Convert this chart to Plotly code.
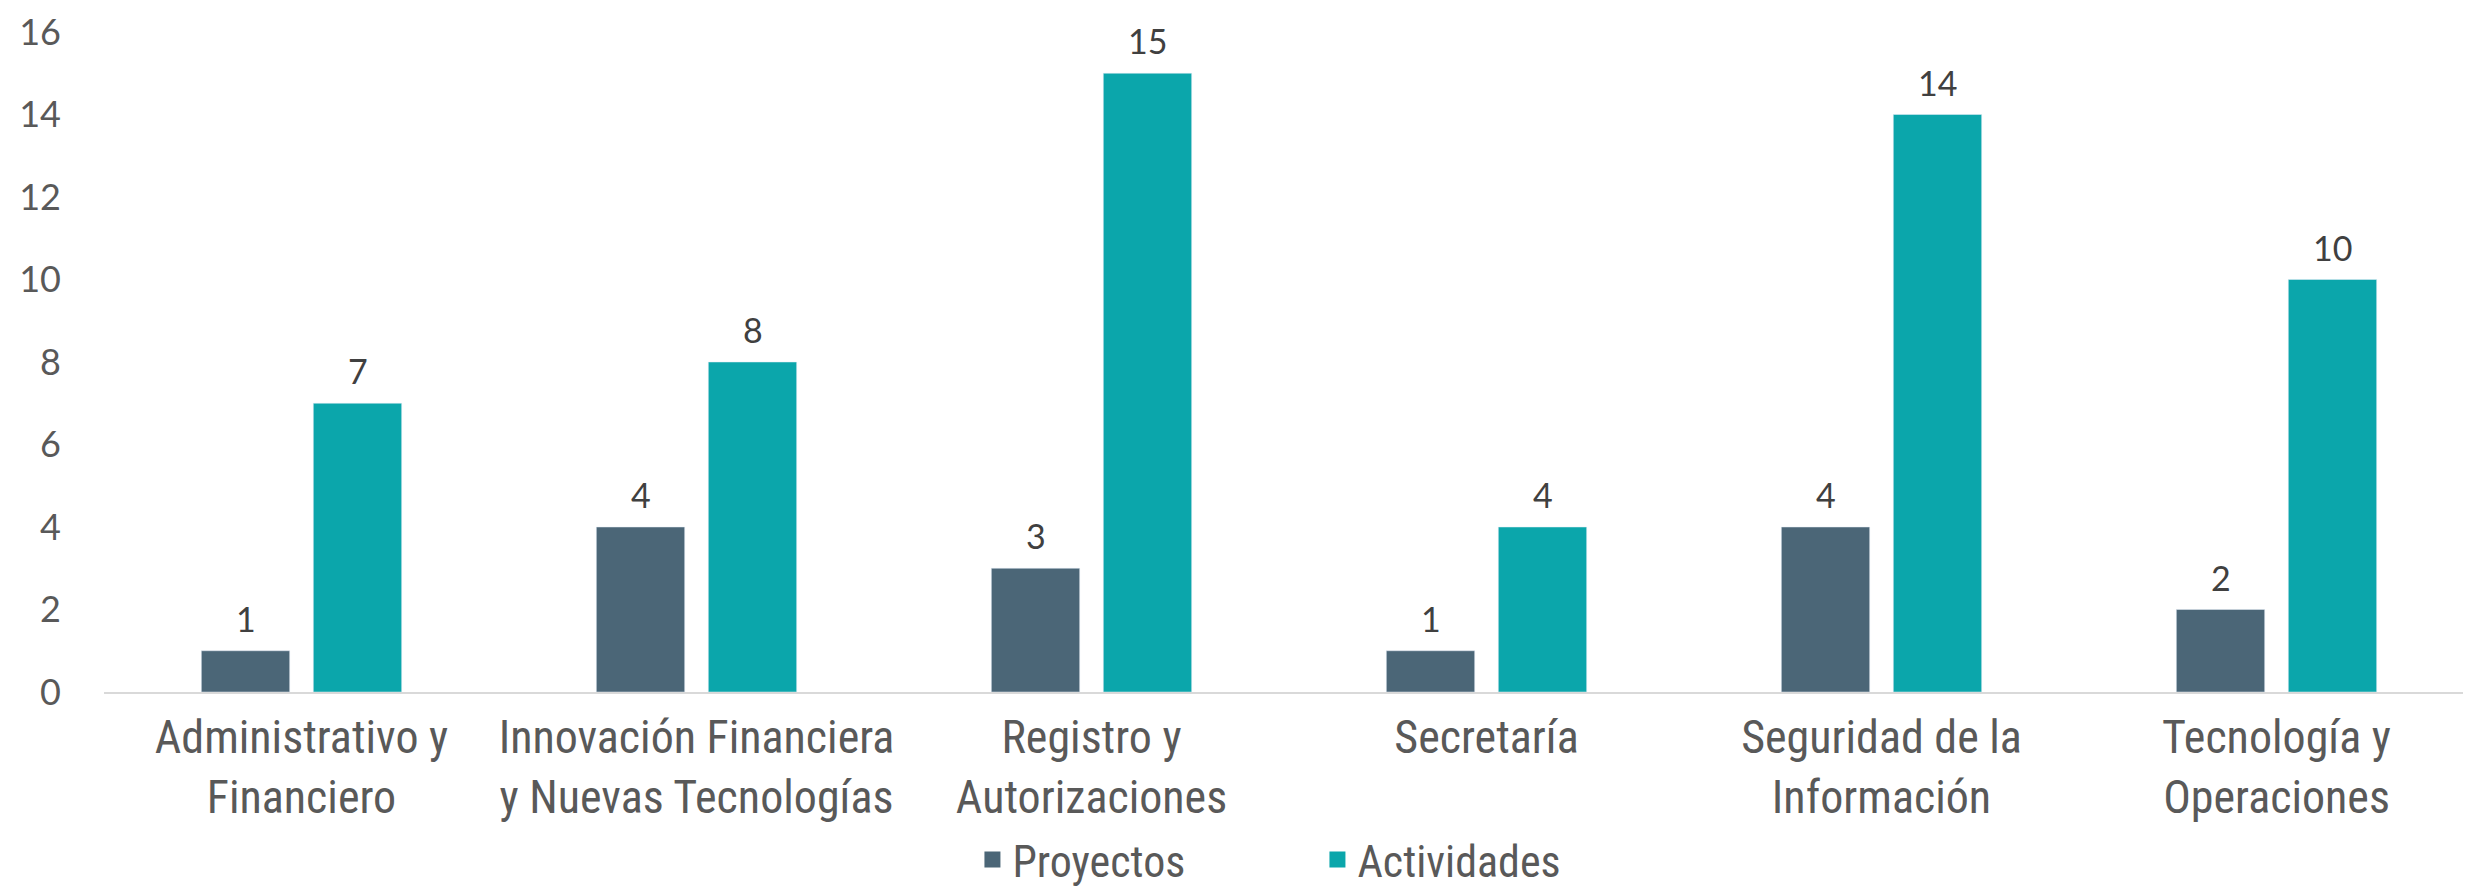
import plotly.graph_objects as go

categories = ["Administrativo y<br>Financiero", "Innovación Financiera<br>y Nuevas Tecnologías",
              "Registro y<br>Autorizaciones", "Secretaría", "Seguridad de la<br>Información",
              "Tecnología y<br>Operaciones"]
proyectos = [1, 4, 3, 1, 4, 2]
actividades = [7, 8, 15, 4, 14, 10]
y_ticks = [0, 2, 4, 6, 8, 10, 12, 14, 16]

C_PROY = "#4B6677"
C_ACT = "#0BA6AB"
CAT_FONT = "Liberation Sans Narrow, Roboto Condensed, Open Sans, sans-serif"
NUM_FONT = "Lato, DejaVu Sans, sans-serif"

fig = go.Figure()
fig.add_trace(go.Bar(x=categories, y=proyectos, name="Proyectos", marker_color=C_PROY,
                     showlegend=False))
fig.add_trace(go.Bar(x=categories, y=actividades, name="Actividades", marker_color=C_ACT,
                     showlegend=False))
# legend entries with larger square symbols
for nm, col in [("Proyectos", C_PROY), ("Actividades", C_ACT)]:
    fig.add_trace(go.Scatter(x=[None], y=[None], mode="markers", name=nm,
                             marker=dict(symbol="square", size=26, color=col)))

# data labels above bars
for vals, dx in [(proyectos, -56), (actividades, 56)]:
    for c, v in zip(categories, vals):
        fig.add_annotation(x=c, y=v, text=str(v), showarrow=False, xshift=dx,
                           yanchor="bottom", yshift=10,
                           font=dict(family=NUM_FONT, size=34, color="#404040"))

fig.update_layout(
    width=2471, height=890,
    paper_bgcolor="white", plot_bgcolor="white",
    margin=dict(l=96, r=5, t=24, b=206, autoexpand=False),
    barmode="group", bargap=0.433, bargroupgap=0.211,
    showlegend=True,
    legend=dict(orientation="h", x=0.512, xanchor="center", yref="container",
                y=0.003, yanchor="bottom",
                font=dict(family=CAT_FONT, size=44, color="#595959"),
                entrywidth=300, entrywidthmode="pixels", itemsizing="trace"),
)
fig.update_xaxes(showline=True, linecolor="#D9D9D9", linewidth=2, showgrid=False,
                 ticks="", ticklabelstandoff=4, automargin=False,
                 tickfont=dict(family=CAT_FONT, size=46, color="#595959"))
fig.update_yaxes(range=[0, 16], tickvals=y_ticks, showgrid=False, zeroline=False,
                 showline=False, ticks="", ticklabelstandoff=42, automargin=False,
                 ticklabeloverflow="allow",
                 tickfont=dict(family=NUM_FONT, size=36, color="#595959"))

fig.write_html("out.html")
